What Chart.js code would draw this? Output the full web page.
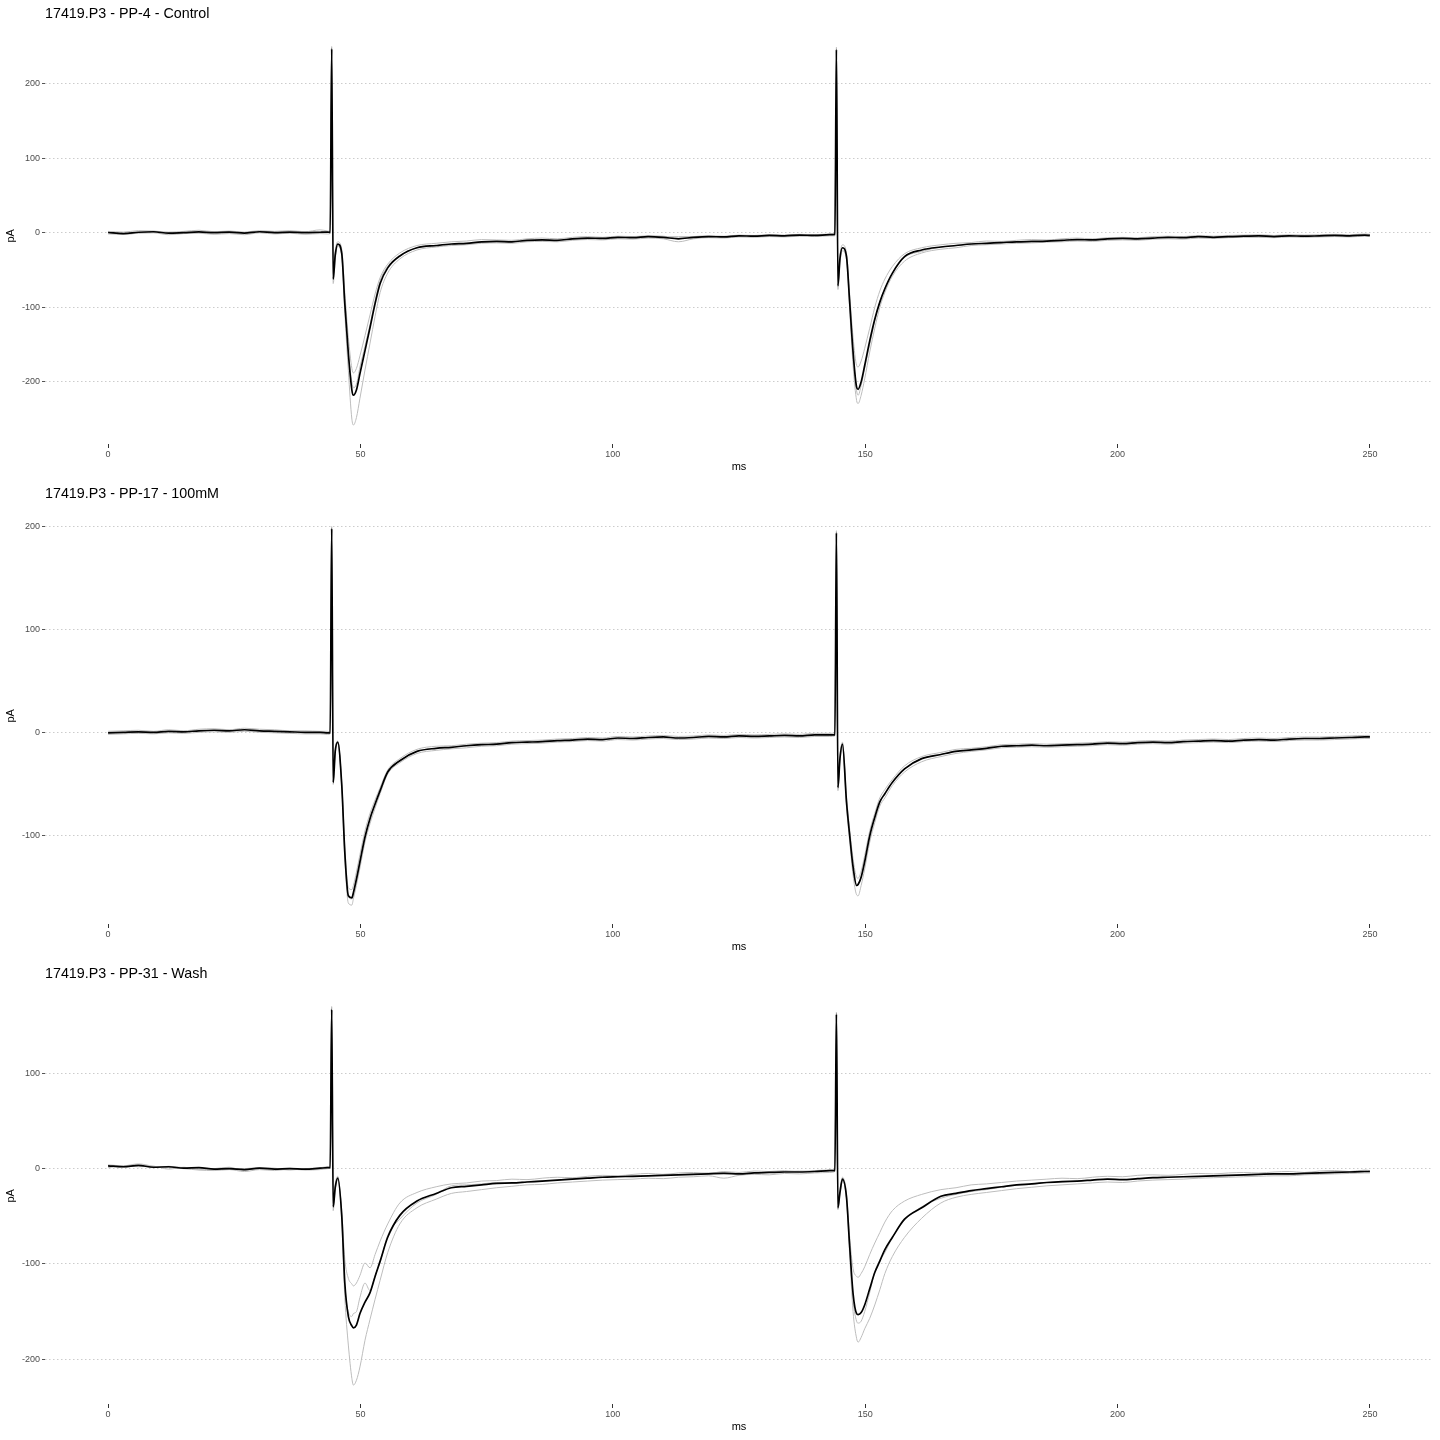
<!DOCTYPE html>
<html>
<head>
<meta charset="utf-8">
<script src="https://cdn.jsdelivr.net/npm/chart.js@4.4.1/dist/chart.umd.min.js"></script>
<style>
  html, body { margin: 0; padding: 0; background: #ffffff; }
  #wrap { position: relative; width: 1440px; height: 1440px; }
  .panel { position: absolute; left: 0; width: 1440px; height: 480px; }
</style>
</head>
<body>
<div id="wrap">
  <div class="panel" style="top:0px"><canvas id="c1" width="1440" height="480"></canvas></div>
  <div class="panel" style="top:480px"><canvas id="c2" width="1440" height="480"></canvas></div>
  <div class="panel" style="top:960px"><canvas id="c3" width="1440" height="480"></canvas></div>
</div>
<script>
// ---------- time grid (ms) ----------
const timeBase   = [0, 3, 6, 9, 12, 15, 18, 21, 24, 27, 30, 33, 36, 39, 42, 43.5];
const timeEvent1 = [44, 44.3, 44.6, 45, 45.5, 46.3, 46.9, 47.6, 48.3, 48.6, 49.2, 49.9, 50.9, 51.9, 52.9, 53.9, 55.4, 57.8, 61.2, 65];
const timeMid    = [68, 71, 74, 77, 80, 83, 86, 89, 92, 95, 98, 101, 104, 107, 110, 113, 116, 119, 122, 125, 128, 131, 134, 137, 140, 143];
const timeEvent2 = [144, 144.3, 144.6, 145, 145.5, 146.3, 146.9, 147.6, 148.3, 148.6, 149.2, 149.9, 150.9, 151.9, 152.9, 153.9, 155.4, 157.8, 161.2, 165];
const timeTail   = [168, 171, 174, 177, 180, 183, 186, 189, 192, 195, 198, 201, 204, 207, 210, 213, 216, 219, 222, 225, 228, 231, 234, 237, 240, 243, 246, 249, 250];
const timeMs = [].concat(timeBase, timeEvent1, timeMid, timeEvent2, timeTail);

const xTickValues = [0, 50, 100, 150, 200, 250];

// ---------- panel titles ----------
const panelTitles = ["17419.P3 - PP-4 - Control", "17419.P3 - PP-17 - 100mM", "17419.P3 - PP-31 - Wash"];

// ---------- Panel 1 (Control) ----------
const p1Mean = [
  0.5, -1, 0.8, 1.5, -0.5, 0.3, 1.2, 0.2, 1, -0.3, 1.5, 0.4, 1.1, 0.2, 0.8, 1,
  0.5, 247, -62, -30, -15, -28, -95, -162, -211, -218, -211, -189, -158, -127, -95, -68, -47, -31, -20, -17,
  -15, -14, -12, -11.5, -12, -10, -9.5, -10, -8, -7, -7.5, -6, -6.5, -5, -6, -8, -6, -5, -5.5, -4, -4.5, -3.5, -4, -3, -3.5, -2.5,
  -2, 246, -71, -35, -20, -32, -90, -160, -207, -210, -200, -178, -145, -116, -93, -75, -54, -32, -23, -19,
  -17, -15, -14, -13, -12, -11.5, -11, -10, -9, -9.5, -8, -7.5, -8, -7, -6, -6.5, -5, -6, -5, -4.5, -4, -5, -4, -4.5, -4, -3.5, -4, -3, -3.5
];
const p1SweepA = [
  2, 1, 3, 2.5, 1, 2, 3.5, 1.5, 2.5, 1, 3, 2, 3, 1.5, 4, 2.5,
  2, 244, -55, -24, -12, -22, -80, -140, -182, -188, -182, -165, -138, -110, -82, -60, -42, -27, -17, -14,
  -12, -11, -9, -9.5, -10, -8, -7, -8, -6, -5, -6, -4.5, -5, -4, -4.5, -7, -5, -4, -4.5, -3, -3.5, -2.5, -3, -2, -2.5, -1.5,
  -1, 243, -65, -30, -16, -27, -80, -140, -178, -180, -172, -155, -128, -100, -78, -62, -45, -28, -20, -16,
  -14, -13, -11, -11.5, -10, -9, -9.5, -8, -7, -8, -6.5, -6, -6.5, -5, -4.5, -5, -3.5, -4.5, -3.5, -3, -2.5, -3.5, -2.5, -3, -2.5, -2, -2.5, -1.5, -2
];
const p1SweepB = [
  -1.5, -2, -0.5, 0, -2.5, -1, -0.5, -2, -1, -2.5, 0, -1.5, -0.5, -2, -1, -1.5,
  -1, 250, -68, -36, -18, -32, -108, -185, -250, -258, -248, -222, -184, -148, -112, -80, -54, -35, -23, -19,
  -17, -16, -14, -13.5, -14, -12, -11.5, -12, -10, -9, -9.5, -8, -8.5, -7, -8, -12, -8, -6.5, -7, -5.5, -6, -5, -5.5, -4.5, -5, -4,
  -4, 249, -76, -40, -24, -36, -100, -178, -225, -229, -218, -196, -160, -128, -100, -80, -58, -38, -27, -22,
  -20, -17, -16, -15, -14, -13.5, -12.5, -12, -11, -11.5, -10, -9.5, -10, -8.5, -8, -8.5, -7, -7.5, -6.5, -6, -6, -6.5, -5.5, -6, -5.5, -5, -5.5, -4.5, -5
];
const p1SweepC = [
  0.5, -2, 0, 2, -0.5, 0, 0.5, 1, 1.5, 0, 1.5, -0.5, 0, 1, -1, 1.5,
  0.5, 247, -63, -30, -15, -30, -97, -161, -200, -208, -203, -180, -152, -123, -91, -64, -45, -31, -20, -18,
  -16, -15, -13, -12, -12.5, -10, -10, -10.5, -8, -7, -7, -5.5, -6, -4, -5.5, -5, -5, -4.5, -5, -3.5, -4, -3, -3.5, -2.5, -3, -2,
  -1, 246, -72, -35, -20, -33, -90, -162, -212, -218, -205, -182, -150, -118, -92, -74, -54, -33, -25, -19,
  -17, -15, -14, -12.5, -12, -12, -11, -10, -9, -9, -7.5, -7, -7.5, -7.5, -5.5, -6, -4.5, -6, -5, -4.5, -3.5, -5, -4, -4.5, -4, -3.5, -4, -3, -3
];

// ---------- Panel 2 (100mM) ----------
const p2Mean = [
  0, 0.5, 1, 0.5, 1.5, 1, 2, 2.5, 2, 3, 2, 1.5, 1, 0.5, 0.5, 0,
  0, 198, -48, -18, -9, -51, -116, -158, -160, -155, -142, -125, -101, -83, -69, -56, -38, -27, -18, -15,
  -14, -12.5, -11.5, -11, -9.5, -9, -8.5, -7.5, -7, -6, -6.5, -5, -5.5, -4.5, -4, -5, -4.5, -3.5, -4, -3, -3.5, -3, -2.5, -3, -2, -2,
  -2, 194, -53, -25, -11, -67, -98, -130, -148, -147, -140, -125, -100, -82, -67, -59, -48, -35, -25, -21,
  -18, -16.5, -15, -13, -12.5, -12, -12.5, -12, -11.5, -11, -10, -10.5, -9.5, -9, -9.5, -8.5, -8, -7.5, -8, -7, -6.5, -7, -6, -5.5, -5.5, -5, -4.5, -4, -4
];
const p2SweepA = [
  1.5, 2, 2.5, 1.5, 3, 2, 3.5, 4, 3, 4.5, 3.5, 3, 2, 2, 1.5, 1.5,
  1, 196, -45, -16, -8, -48, -110, -150, -152, -148, -135, -118, -95, -78, -65, -53, -36, -25, -16, -13,
  -12.5, -11, -10, -9.5, -8, -7.5, -7, -6, -5.5, -4.5, -5, -3.5, -4, -3, -2.5, -3.5, -3, -2, -2.5, -1.5, -2, -1.5, -1, -1.5, -0.5, -0.5,
  0, 192, -50, -22, -9, -62, -92, -122, -140, -141, -134, -119, -95, -78, -63, -55, -45, -32, -23, -19,
  -16, -15, -13.5, -11.5, -11, -10.5, -11, -10.5, -10, -9.5, -8.5, -9, -8, -7.5, -8, -7, -6.5, -6, -6.5, -5.5, -5, -5.5, -4.5, -4, -4, -3.5, -3, -2.5, -2.5
];
const p2SweepB = [
  -1.5, -1, -0.5, -1, 0, -0.5, 0.5, 1, 0.5, 1.5, 0.5, 0, -0.5, -1, -1, -1.5,
  -1, 200, -50, -20, -10, -54, -122, -165, -167, -161, -148, -131, -106, -88, -73, -59, -40, -29, -20, -17,
  -15.5, -14.5, -13, -12.5, -11, -10.5, -10, -9, -8.5, -7.5, -8, -6.5, -7, -6, -5.5, -6.5, -6, -5, -5.5, -4.5, -5, -4.5, -4, -4.5, -3.5, -3.5,
  -3, 196, -56, -28, -13, -72, -104, -138, -157, -158, -148, -132, -106, -87, -71, -63, -51, -38, -28, -23,
  -20, -18, -16.5, -14.5, -14, -13.5, -14, -13.5, -13, -12.5, -11.5, -12, -11, -10.5, -11, -10, -9.5, -9, -9.5, -8.5, -8, -8.5, -7.5, -7, -7, -6.5, -6, -5.5, -5.5
];
const p2SweepC = [
  0, 0.5, 0, 1, 1.5, 1.5, 2, 2.5, 2.5, 3, 2, 1.5, 1.5, 0.5, 1, 0,
  0, 198, -48, -18, -9, -51, -116, -159, -161, -156, -143, -126, -102, -83, -69, -56, -38, -27, -18, -15,
  -14, -12.5, -11.5, -10.5, -9.5, -8.5, -8, -7.5, -6.5, -6, -6.5, -5.5, -5, -4.5, -4.5, -5, -4, -3.5, -4.5, -3, -3, -3.5, -2.5, -2.5, -2, -2.5,
  -2, 194, -53, -25, -11, -67, -98, -130, -147, -146, -139, -124, -99, -81, -67, -59, -48, -35, -25, -21,
  -17.5, -17, -15.5, -13, -12.5, -12.5, -12, -12, -11, -11.5, -10, -10, -9.5, -9.5, -9, -8.5, -8.5, -7, -8, -7.5, -6, -7, -6.5, -5, -6, -5, -4, -4.5, -4
];

// ---------- Panel 3 (Wash) ----------
const p3Mean = [
  3, 2, 3.5, 1.5, 2, 0.5, 1, -0.5, 0, -1, 0.5, -0.5, 0, -0.5, 0.5, 1,
  1, 167, -40, -20, -10, -50, -120, -155, -165, -167, -164, -152, -140, -130, -113, -97, -72, -49, -34, -26,
  -20, -18.5, -17, -15.5, -15, -14, -13, -12, -11, -10, -9, -8.5, -8, -7.5, -7, -6.5, -6, -5.5, -5, -5.5, -4.5, -4, -3.5, -3.5, -3, -2,
  -2, 162, -41, -25, -11, -30, -79, -131, -152, -153, -151, -143, -126, -109, -97, -85, -72, -53, -41, -29,
  -26, -23, -21, -19, -17, -16, -14.5, -13.5, -13, -12, -11, -11.5, -10.5, -9.5, -9, -8.5, -8, -7.5, -7, -6.5, -6, -5.5, -5.5, -5, -4.5, -4, -3.5, -3, -3
];
const p3SweepA = [
  1, 3, 2, 2.5, -0.5, 1.5, -1, 0, 1.5, -2, 1, 0.5, -1.5, 0, 1, 2,
  1, 165, -36, -16, -8, -45, -95, -115, -121, -123, -120, -112, -99, -104, -90, -76, -58, -36, -25, -19,
  -16, -15, -13, -12.5, -11, -11.5, -10, -9, -9.5, -8, -7, -7.5, -6, -5, -6, -4.5, -4, -5, -3, -4, -2.5, -3, -2, -3.5, -2, -1.5,
  -1, 160, -38, -22, -9, -26, -70, -105, -113, -114, -110, -103, -90, -78, -67, -56, -44, -34, -27, -22,
  -20, -17, -16, -14.5, -13, -12, -11, -10, -10.5, -9, -8, -8.5, -7, -6.5, -7, -6, -5, -5.5, -4.5, -4, -4.5, -3.5, -3, -4, -2.5, -2, -3, -1.5, -2
];
const p3SweepB = [
  4, 3, 5, 2.5, 1, 0, -1.5, -2, -1, -3, -1, -2, -0.5, -1.5, -1, 0,
  2, 170, -44, -22, -11, -55, -135, -185, -220, -227, -222, -208, -180, -158, -137, -117, -88, -58, -41, -32,
  -26, -24, -22, -20, -18.5, -17, -16.5, -15, -14, -13, -12, -11.5, -11, -10, -10.5, -9, -8.5, -7.5, -10, -7, -6, -6.5, -5, -5.5, -4.5, -4,
  -3, 164, -43, -27, -12, -33, -88, -150, -178, -182, -177, -168, -157, -143, -127, -110, -92, -72, -52, -36,
  -30, -27, -25, -23, -21, -19.5, -18, -17, -16, -15, -14, -14.5, -13, -12, -11.5, -11, -10, -9.5, -9, -8.5, -8, -7.5, -7.5, -6.5, -6, -5.5, -5, -4.5, -4.5
];
const p3SweepC = [
  2.5, 1.5, 3, 1, 2.5, 1, 0.5, 0, -0.5, 0, 1, 0, 0.5, -1, 0, 1,
  0, 166, -40, -20, -10, -50, -125, -150, -155, -152, -150, -135, -120, -128, -112, -98, -70, -53, -36, -27,
  -18, -17, -16, -14.5, -15.5, -13.5, -12.5, -12, -10, -9.5, -8, -7.5, -7, -7.5, -6, -6, -5.5, -4.5, -4, -5.5, -4.5, -3.5, -3, -2.5, -2.5, -1.5,
  -2, 162, -42, -26, -12, -31, -80, -138, -160, -162, -160, -150, -130, -108, -96, -88, -72, -54, -40, -31,
  -27, -24, -22, -19.5, -17.5, -16.5, -14.5, -14, -13, -12, -11, -11.5, -11, -10, -9, -8.5, -8.5, -7.5, -7, -7, -6, -5.5, -6, -5, -5, -4, -3.5, -3, -3
];

// y ticks per panel
const p1YTicks = [-200, -100, 0, 100, 200];
const p2YTicks = [-100, 0, 100, 200];
const p3YTicks = [-200, -100, 0, 100];

// ---------- drawing ----------
Chart.defaults.font.family = "'Liberation Sans', Arial, Helvetica, sans-serif";
Chart.defaults.animation = false;

function toPoints(values) {
  return timeMs.map((t, i) => ({ x: t, y: values[i] }));
}

function expandRange(series) {
  let lo = Infinity, hi = -Infinity;
  series.forEach(s => s.forEach(v => { if (v < lo) lo = v; if (v > hi) hi = v; }));
  const pad = (hi - lo) * 0.05;
  return [lo - pad, hi + pad];
}

function makePanel(canvasId, title, sweeps, mean, yTicks) {
  const [ymin, ymax] = expandRange(sweeps.concat([mean]));
  // mean first: Chart.js paints lower-index datasets on top
  const datasets = [{
    data: toPoints(mean),
    borderColor: '#000000',
    borderWidth: 1.7,
    pointRadius: 0,
    cubicInterpolationMode: 'monotone',
    fill: false
  }];
  sweeps.forEach(s => datasets.push({
    data: toPoints(s),
    borderColor: '#bdbdbd',
    borderWidth: 1,
    pointRadius: 0,
    cubicInterpolationMode: 'monotone',
    fill: false
  }));
  new Chart(document.getElementById(canvasId), {
    type: 'line',
    data: { datasets },
    options: {
      responsive: false,
      devicePixelRatio: 1,
      animation: false,
      layout: { padding: { left: 0, right: 7, top: 0, bottom: 0 } },
      plugins: {
        legend: { display: false },
        tooltip: { enabled: false },
        title: {
          display: true,
          text: title,
          align: 'start',
          fullSize: false,
          color: '#000000',
          font: { size: 14.3, weight: 'normal' },
          padding: { top: 5, bottom: 5.5 }
        }
      },
      scales: {
        x: {
          type: 'linear',
          min: -12.5,
          max: 262.5,
          afterBuildTicks: s => { s.ticks = xTickValues.map(v => ({ value: v })); },
          afterFit: s => { s.height = 36; },
          ticks: { color: '#4d4d4d', font: { size: 9 }, padding: 1, maxRotation: 0, autoSkip: false },
          grid: { drawOnChartArea: false, drawTicks: true, tickLength: 4, color: '#333333', tickColor: '#333333' },
          border: { display: false },
          title: { display: true, text: 'ms', color: '#000000', font: { size: 11 }, padding: { top: 0, bottom: 6 } }
        },
        y: {
          type: 'linear',
          min: ymin,
          max: ymax,
          afterBuildTicks: s => { s.ticks = yTicks.map(v => ({ value: v })); },
          afterFit: s => { s.width = 45; },
          ticks: { color: '#4d4d4d', font: { size: 9 }, padding: 2, autoSkip: false },
          grid: { color: '#cccccc', lineWidth: 1, tickLength: 3, tickColor: '#555555', borderDash: [1.5, 2.5] },
          border: { display: false, dash: [1.5, 2.5] },
          title: { display: true, text: 'pA', color: '#000000', font: { size: 11 }, padding: { top: 4, bottom: 0 } }
        }
      }
    }
  });
}

makePanel('c1', panelTitles[0], [p1SweepA, p1SweepB, p1SweepC], p1Mean, p1YTicks);
makePanel('c2', panelTitles[1], [p2SweepA, p2SweepB, p2SweepC], p2Mean, p2YTicks);
makePanel('c3', panelTitles[2], [p3SweepA, p3SweepB, p3SweepC], p3Mean, p3YTicks);
</script>
</body>
</html>
